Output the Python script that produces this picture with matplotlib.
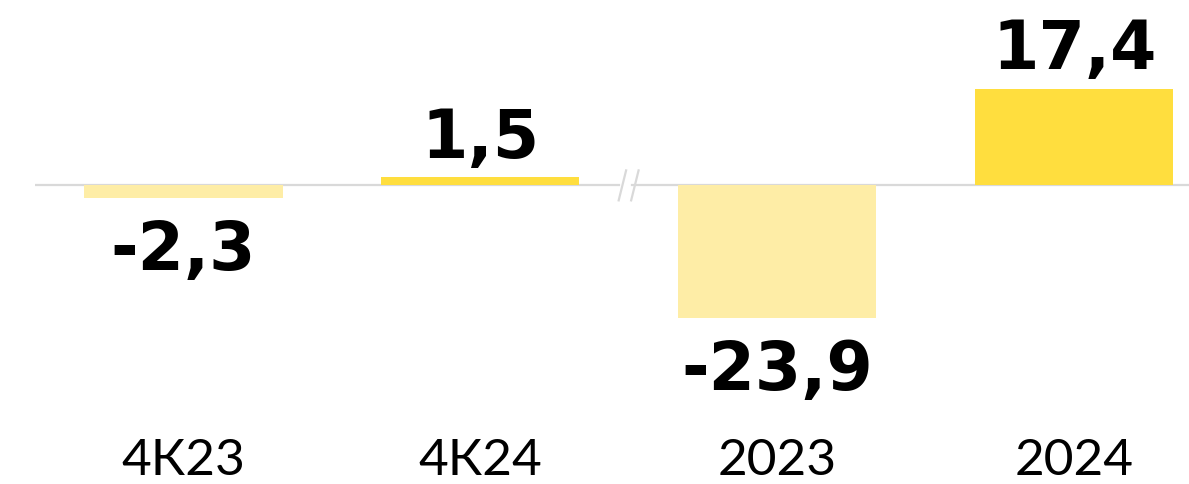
import numpy as np
import matplotlib.pyplot as plt

# данные
categories = ['4К23', '4К24', '2023', '2024']
values = [-2.3, 1.5, -23.9, 17.4]
labels = ['-2,3', '1,5', '-23,9', '17,4']
colors = ['#FEEDA6', '#FFDE3E', '#FEEDA6', '#FFDE3E']

fig = plt.figure(figsize=(11.89, 4.84), dpi=100)
ax = fig.add_axes([35 / 1189, 0, 1 - 35 / 1189, 1])

x = np.arange(len(categories))
ax.bar(x, values, width=0.667, color=colors, zorder=2)

ax.set_xlim(-0.5, 3.386)
ax.set_ylim(-53.8, 33.4)
ax.axis('off')

# линия нуля с разрывом
ax.plot([-0.5, 1.465], [0, 0], color='#D9D9D9', lw=1.6, zorder=1)
ax.plot([1.51, 3.386], [0, 0], color='#D9D9D9', lw=1.6, zorder=1)
for dx in [-0.022, 0.02]:
    ax.plot([1.5 + dx - 0.0125, 1.5 + dx + 0.0125], [-2.7, 2.7],
            color='#D9D9D9', lw=1.6, zorder=1)

# подписи значений
for xi, v, lab in zip(x, values, labels):
    off = 14 if v > 0 else -52
    ax.annotate(lab, (xi, v), xytext=(0, off), textcoords='offset points',
                ha='center', va='baseline', fontsize=48, fontweight='bold',
                family='DejaVu Sans', color='black')

# подписи категорий
for xi, c in zip(x, categories):
    ax.text(xi, -49.6, c, ha='center', va='center', fontsize=37,
            family='Lato', fontweight='normal', color='black')

fig.savefig('out.png', dpi=100)
